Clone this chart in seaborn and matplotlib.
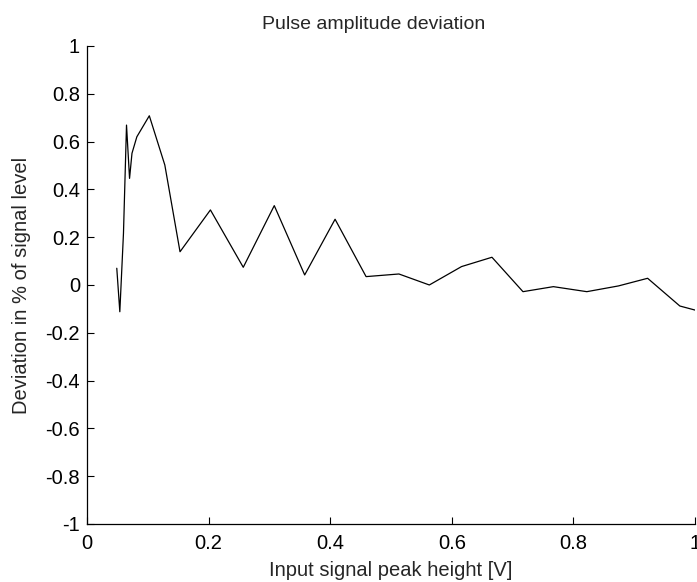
import numpy as np
import pandas as pd
import seaborn as sns
import matplotlib
matplotlib.use("Agg")
import matplotlib.pyplot as plt

# values
peak_height = [0.049, 0.054, 0.060, 0.065, 0.070, 0.074, 0.082, 0.1025, 0.128, 0.153,
               0.203, 0.257, 0.308, 0.358, 0.408, 0.459, 0.513, 0.563, 0.616, 0.666,
               0.717, 0.767, 0.822, 0.874, 0.922, 0.975, 1.0]
deviation = [0.070, -0.112, 0.216, 0.669, 0.446, 0.551, 0.620, 0.708, 0.502, 0.139,
             0.314, 0.074, 0.332, 0.042, 0.275, 0.035, 0.046, 0.000, 0.077, 0.116,
             -0.028, -0.007, -0.028, -0.004, 0.028, -0.088, -0.105]
x_ticks = [0, 0.2, 0.4, 0.6, 0.8, 1]
y_ticks = [-1, -0.8, -0.6, -0.4, -0.2, 0, 0.2, 0.4, 0.6, 0.8, 1]

data = pd.DataFrame({"x": peak_height, "y": deviation})

sns.set_style("ticks")
plt.rcParams['font.family'] = ['Liberation Sans', 'DejaVu Sans']
plt.rcParams['axes.unicode_minus'] = False
plt.rcParams['xtick.direction'] = 'in'
plt.rcParams['ytick.direction'] = 'in'

fig = plt.figure(figsize=(6.97, 5.82), dpi=100)
ax = fig.add_axes([0.1248, 0.0997, 0.8724, 0.8213])

sns.lineplot(data=data, x="x", y="y", color="black", linewidth=0.9, ax=ax)

ax.set_xlim(0, 1)
ax.set_ylim(-1, 1)
ax.set_xticks(x_ticks)
ax.set_xticklabels([f"{t:g}" for t in x_ticks])
ax.set_yticks(y_ticks)
ax.set_yticklabels([f"{t:g}" for t in y_ticks])
ax.tick_params(labelsize=14.5, length=5, width=0.8, colors="black")
ax.tick_params(axis="x", pad=7)
ax.tick_params(axis="y", pad=5)
sns.despine(ax=ax)
for s in ["left", "bottom"]:
    ax.spines[s].set_color("black")
    ax.spines[s].set_linewidth(0.9)

ax.set_title("Pulse amplitude deviation", fontsize=14, x=0.472, pad=12)
ax.set_xlabel("Input signal peak height [V]", fontsize=14.5)
ax.set_ylabel("Deviation in % of signal level", fontsize=14.5)
ax.xaxis.set_label_coords(0.5, -0.078)
ax.yaxis.set_label_coords(-0.092, 0.5)

fig.savefig("out.png", dpi=100)
